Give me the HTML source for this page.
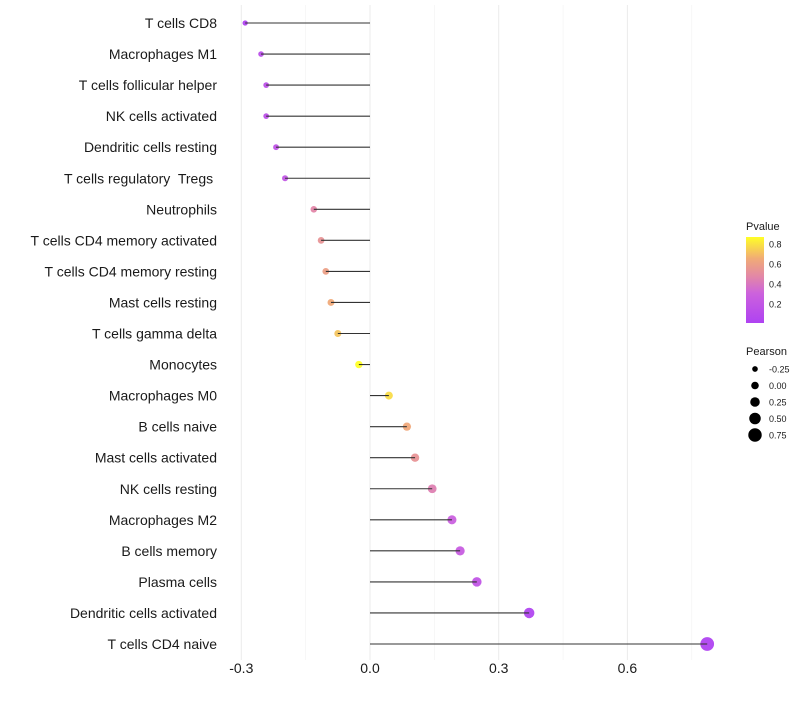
<!DOCTYPE html>
<html><head><meta charset="utf-8"><style>
body{margin:0;background:#fff;font-family:"Liberation Sans",sans-serif;}
text{white-space:pre;}
</style></head><body>
<svg id="chart" width="800" height="700" xmlns="http://www.w3.org/2000/svg"></svg>
<script>
const categories=["T cells CD8","Macrophages M1","T cells follicular helper","NK cells activated","Dendritic cells resting","T cells regulatory  Tregs ","Neutrophils","T cells CD4 memory activated","T cells CD4 memory resting","Mast cells resting","T cells gamma delta","Monocytes","Macrophages M0","B cells naive","Mast cells activated","NK cells resting","Macrophages M2","B cells memory","Plasma cells","Dendritic cells activated","T cells CD4 naive"];
const pearson=[-0.291,-0.254,-0.242,-0.242,-0.219,-0.198,-0.131,-0.114,-0.103,-0.091,-0.075,-0.026,0.044,0.086,0.105,0.145,0.191,0.210,0.249,0.371,0.786];
const pvalues=[0.01,0.12,0.14,0.14,0.17,0.2,0.47,0.54,0.6,0.65,0.72,0.87,0.78,0.64,0.54,0.44,0.28,0.25,0.18,0.03,0.01];
const xTicks=[-0.3,0,0.3,0.6];
const xTickLabels=["-0.3","0.0","0.3","0.6"];
const minorTicks=[-0.15,0.15,0.45,0.75];
const pTicks=[0.2,0.4,0.6,0.8];
const sizeTicks=[-0.25,0,0.25,0.5,0.75];
const sizeLabels=["-0.25","0.00","0.25","0.50","0.75"];

const svg=document.getElementById('chart');
const NS='http://www.w3.org/2000/svg';
const x=v=>370+v*429;
const y=i=>23+i*31.05;
const rad=v=>3.8+3.9*v;
const stops=[[0,[160,32,240]],[0.35,[195,70,215]],[0.55,[222,115,150]],[0.75,[238,155,95]],[1,[255,255,0]]];
function col(p){const t=Math.max(0,Math.min(1,p/0.87));
 for(let k=1;k<stops.length;k++){if(t<=stops[k][0]){const [t0,a]=stops[k-1],[t1,b]=stops[k];const f=(t-t0)/(t1-t0);
  return `rgb(${a.map((c,j)=>Math.round(c+(b[j]-c)*f)).join(',')})`;}}
 return 'rgb(255,255,0)';}
function mk(tag,attrs,parent){const e=document.createElementNS(NS,tag);for(const k in attrs)e.setAttribute(k,attrs[k]);(parent||svg).appendChild(e);return e;}

minorTicks.forEach(v=>{const l=mk('line',{x1:x(v),x2:x(v),y1:5,y2:660,stroke:'#f2f2f2','stroke-width':0.6});

});
xTicks.forEach((v,i)=>{const l=mk('line',{x1:x(v),x2:x(v),y1:5,y2:660,stroke:'#ebebeb','stroke-width':1});


const t=mk('text',{x:x(v),y:673,'font-size':14,'text-anchor':'middle',fill:'#1a1a1a'});t.textContent=xTickLabels[i];

});

categories.forEach((c,i)=>{
 const t=mk('text',{x:217,y:y(i)+5,'font-size':14,'text-anchor':'end',fill:'#1a1a1a'});t.textContent=c;
 
 
 const d=mk('circle',{cx:x(pearson[i]),cy:y(i),r:rad(pearson[i]),fill:col(pvalues[i]),'fill-opacity':0.8});
 
 
 const l=mk('line',{x1:x(0),x2:x(pearson[i]),y1:y(i),y2:y(i),stroke:'#333','stroke-width':1.1});
 
 
});

const lt=mk('text',{x:746,y:230,'font-size':11,fill:'#1a1a1a'});lt.textContent='Pvalue';


const defs=mk('defs',{});const g=mk('linearGradient',{id:'pg',x1:0,y1:1,x2:0,y2:0},defs);
for(let k=0;k<=20;k++){mk('stop',{offset:k/20,'stop-color':col(0.01+k*0.043),'stop-opacity':0.85},g);}
const bar=mk('rect',{x:746,y:237,width:18,height:86,fill:'url(#pg)'});


pTicks.forEach(p=>{const yy=323-(p-0.01)/0.86*86;
 const t=mk('text',{x:769,y:yy+3.5,'font-size':9,fill:'#1a1a1a'});t.textContent=p.toFixed(1);
 
 });

const st=mk('text',{x:746,y:355,'font-size':11,fill:'#1a1a1a'});st.textContent='Pearson';


sizeTicks.forEach((v,i)=>{const yy=369+i*16.5;
 const c=mk('circle',{cx:755,cy:yy,r:rad(v),fill:'#000'});
 
 
 const t=mk('text',{x:769,y:yy+3.5,'font-size':9,fill:'#1a1a1a'});t.textContent=sizeLabels[i];
 
 });
</script>
</body></html>
